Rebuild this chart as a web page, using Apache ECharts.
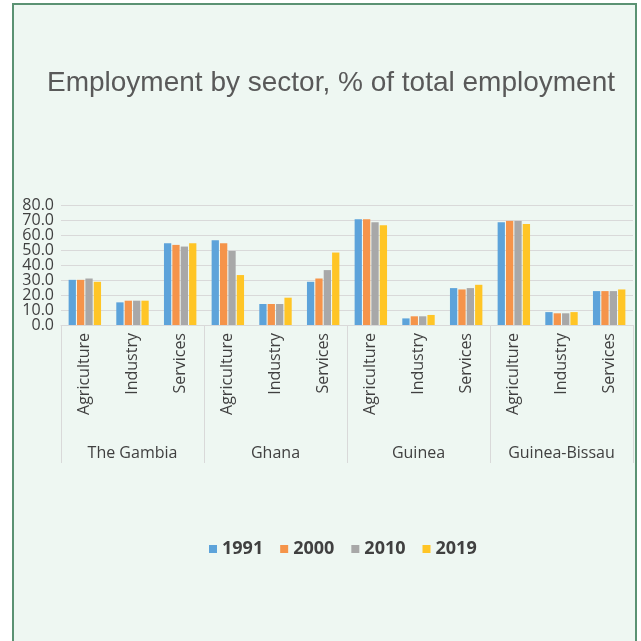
<!DOCTYPE html>
<html><head><meta charset="utf-8">
<script src="https://cdn.jsdelivr.net/npm/echarts@6/dist/echarts.min.js"></script>
<style>html,body{margin:0;padding:0;background:#fff}#c{width:641px;height:641px}</style>
</head><body><div id="c"></div>
<script>
var countries = ['The Gambia', 'Ghana', 'Guinea', 'Guinea-Bissau'];
var sectors = ['Agriculture', 'Industry', 'Services'];
var years = ['1991', '2000', '2010', '2019'];
var yTicks = [0, 10, 20, 30, 40, 50, 60, 70, 80];
// order: Gambia(Agr, Ind, Ser), Ghana(...), Guinea(...), Guinea-Bissau(...)
var v1991 = [30.1, 15.1, 54.5, 56.5, 14.0, 28.8, 70.5, 4.4, 24.6, 68.5, 8.6, 22.6];
var v2000 = [30.1, 16.2, 53.4, 54.5, 14.0, 31.0, 70.5, 5.8, 23.7, 69.4, 7.8, 22.6];
var v2010 = [31.0, 16.2, 52.3, 49.4, 14.0, 36.6, 68.5, 5.8, 24.6, 69.4, 7.8, 22.6];
var v2019 = [28.8, 16.2, 54.5, 33.3, 18.2, 48.3, 66.5, 6.7, 26.8, 67.4, 8.6, 23.7];

var colors = ['#5DA3DA', '#F5944A', '#A8A8A8', '#FFC526'];
var seriesValues = [v1991, v2000, v2010, v2019];
var subCats = [];
countries.forEach(function (c) { sectors.forEach(function (s) { subCats.push(s); }); });

var step = yTicks[1] - yTicks[0];
var pxPerUnit = 120 / (yTicks[yTicks.length - 1] - yTicks[0]);
var labelStyle = {margin: 7, fontFamily: 'Open Sans', fontSize: 16, color: '#404040',
  showMinLabel: true, showMaxLabel: true,
  formatter: function (v) { return v.toFixed(1); }};
var gridLine = {lineStyle: {color: '#D9D9D9', width: 1}};

var chart = echarts.init(document.getElementById('c'), null, {renderer: 'canvas'});
var option = {
  backgroundColor: '#ffffff',
  animation: false,
  color: colors,
  graphic: [{
    type: 'rect', z: -10, silent: true,
    shape: {x: 13, y: 4, width: 623, height: 650},
    style: {fill: '#EEF7F2', stroke: '#5B9273', lineWidth: 2}
  }],
  title: {
    text: 'Employment by sector, % of total employment',
    left: 42, top: 64,
    textStyle: {fontFamily: 'Liberation Sans', fontSize: 28, fontWeight: 'normal', color: '#595959'}
  },
  legend: {
    left: 204, top: 535,
    itemWidth: 8, itemHeight: 8, itemGap: 17,
    icon: 'rect',
    textStyle: {fontFamily: 'Open Sans', fontSize: 18, fontWeight: 'bold', color: '#404040'},
    data: years
  },
  grid: [
    {left: 61, right: 8, top: 205, bottom: 316, containLabel: false},
    // second grid only carries the odd tick labels (same scale, shifted by one step)
    {left: 61, right: 8, top: 205 + step * pxPerUnit, bottom: 316 + step * pxPerUnit, containLabel: false}
  ],
  xAxis: [{
    type: 'category', data: subCats, gridIndex: 0,
    axisLine: {show: true, lineStyle: {color: '#D9D9D9', width: 1}},
    axisTick: {show: false},
    axisLabel: {interval: 0, rotate: 90, margin: 8, fontFamily: 'Open Sans', fontSize: 16, color: '#404040'}
  }, {
    type: 'category', data: countries, gridIndex: 0, position: 'bottom', offset: 138,
    axisLine: {show: false},
    axisTick: {show: true, inside: true, length: 138, lineStyle: {color: '#D9D9D9', width: 1}},
    axisLabel: {inside: true, margin: 2, fontFamily: 'Open Sans', fontSize: 16, color: '#404040'}
  }, {
    type: 'category', data: subCats, gridIndex: 1, show: false
  }],
  yAxis: [{
    type: 'value', gridIndex: 0,
    min: yTicks[0], max: yTicks[yTicks.length - 1], interval: step * 2,
    axisLine: {show: false}, axisTick: {show: false},
    splitLine: gridLine, axisLabel: labelStyle
  }, {
    type: 'value', gridIndex: 1,
    min: yTicks[1], max: yTicks[yTicks.length - 2], interval: step * 2,
    axisLine: {show: false}, axisTick: {show: false},
    splitLine: gridLine, axisLabel: labelStyle
  }],
  series: years.map(function (y, i) {
    return {name: y, type: 'bar', xAxisIndex: 0, yAxisIndex: 0, data: seriesValues[i],
      barGap: '15%', barCategoryGap: '32%'};
  })
};
chart.setOption(option);
</script></body></html>
